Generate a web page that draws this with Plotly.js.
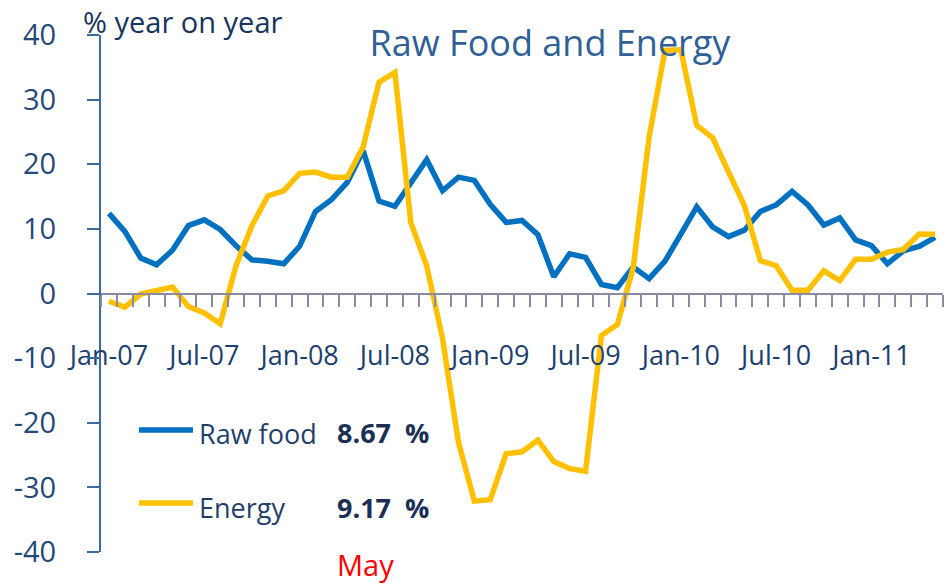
<!DOCTYPE html>
<html>
<head>
<meta charset="utf-8">
<script src="https://cdn.plot.ly/plotly-3.0.1.min.js"></script>
<style>html,body{margin:0;padding:0;background:#fff;}#chart{width:951px;height:586px;}</style>
</head>
<body>
<div id="chart"></div>
<script>
const categories = ['Jan-07','Feb-07','Mar-07','Apr-07','May-07','Jun-07','Jul-07','Aug-07','Sep-07','Oct-07','Nov-07','Dec-07',
  'Jan-08','Feb-08','Mar-08','Apr-08','May-08','Jun-08','Jul-08','Aug-08','Sep-08','Oct-08','Nov-08','Dec-08',
  'Jan-09','Feb-09','Mar-09','Apr-09','May-09','Jun-09','Jul-09','Aug-09','Sep-09','Oct-09','Nov-09','Dec-09',
  'Jan-10','Feb-10','Mar-10','Apr-10','May-10','Jun-10','Jul-10','Aug-10','Sep-10','Oct-10','Nov-10','Dec-10',
  'Jan-11','Feb-11','Mar-11','Apr-11','May-11'];
const tickLabels = ['Jan-07','Jul-07','Jan-08','Jul-08','Jan-09','Jul-09','Jan-10','Jul-10','Jan-11'];
const yTickVals = [-40, -30, -20, -10, 0, 10, 20, 30, 40];
const yTickText = ['-40', '-30', '-20', '-10', '0', '10', '20', '30', '40'];
const rawFood = [12.4, 9.6, 5.5, 4.45, 6.7, 10.5, 11.4, 9.9, 7.4, 5.2, 5.0, 4.6,
  7.3, 12.7, 14.5, 17.2, 22.1, 14.3, 13.5, 17.1, 20.7, 15.9, 18.0, 17.5,
  13.8, 11.0, 11.3, 9.1, 2.6, 6.15, 5.6, 1.4, 0.9, 4.1, 2.3, 5.0,
  9.0, 13.4, 10.3, 8.8, 9.8, 12.7, 13.7, 15.8, 13.7, 10.6, 11.7, 8.3,
  7.4, 4.6, 6.6, 7.3, 8.67];
const energy = [-1.2, -2.1, -0.1, 0.4, 1.0, -2.0, -3.0, -4.7, 4.3, 10.5, 15.1, 15.9,
  18.6, 18.8, 18.0, 18.0, 22.7, 32.7, 34.2, 11.0, 4.3, -7.0, -23.0, -32.1,
  -31.9, -24.8, -24.5, -22.7, -26.0, -27.1, -27.5, -6.5, -4.8, 4.0, 24.2, 37.6,
  37.7, 26.0, 24.1, 18.8, 13.6, 5.1, 4.3, 0.5, 0.5, 3.5, 2.0, 5.3,
  5.3, 6.4, 6.8, 9.2, 9.17];
const seriesNames = ['Raw food', 'Energy'];
const latestValues = ['8.67&nbsp; %', '9.17&nbsp; %'];
const latestMonth = 'May';
const colors = ['#0070C0', '#FFC000'];

const W = 951, H = 586, M = {l: 101, r: 8, t: 35, b: 34};
const pw = W - M.l - M.r, ph = H - M.t - M.b;
const px = x => (x - M.l) / pw;
const py = y => (H - M.b - y) / ph;
const FONT = 'Open Sans, Arial, sans-serif';

const traces = [rawFood, energy].map((vals, i) => ({
  type: 'scatter', mode: 'lines', x: categories, y: vals, name: seriesNames[i],
  line: {color: colors[i], width: 5.5}, showlegend: false, hoverinfo: 'x+y'
}));

const annotations = [
  {text: '% year on year', x: px(81), y: py(21), xanchor: 'left', yanchor: 'middle',
   font: {family: FONT, size: 29, color: '#17345c', weight: 500}},
  {text: seriesNames[0], x: px(197), y: py(433), xanchor: 'left', yanchor: 'middle',
   font: {family: FONT, size: 27, color: '#1f3f6a'}},
  {text: '<b>' + latestValues[0] + '</b>', x: px(335), y: py(432), xanchor: 'left', yanchor: 'middle',
   font: {family: FONT, size: 27, color: '#1b2f55'}},
  {text: seriesNames[1], x: px(197), y: py(507), xanchor: 'left', yanchor: 'middle',
   font: {family: FONT, size: 27, color: '#1f3f6a'}},
  {text: '<b>' + latestValues[1] + '</b>', x: px(335), y: py(507), xanchor: 'left', yanchor: 'middle',
   font: {family: FONT, size: 27, color: '#1b2f55'}},
  {text: latestMonth, x: px(335), y: py(564), xanchor: 'left', yanchor: 'middle',
   font: {family: FONT, size: 29, color: '#ff0000'}}
].map(a => Object.assign({xref: 'paper', yref: 'paper', showarrow: false}, a));

const shapes = [430, 503].map((yy, i) => ({
  type: 'line', xref: 'paper', yref: 'paper', x0: px(139), x1: px(193), y0: py(yy), y1: py(yy),
  line: {color: colors[i], width: 5.5}
}));

const layout = {
  width: W, height: H, margin: M, paper_bgcolor: '#fff', plot_bgcolor: '#fff',
  showlegend: false,
  title: {text: 'Raw Food and Energy', x: px(550), xref: 'paper', xanchor: 'center',
    y: 1 - 43 / H, yref: 'container', yanchor: 'middle',
    font: {family: FONT, size: 36, color: '#2f6096'}},
  xaxis: {
    type: 'category', categoryorder: 'array', categoryarray: categories,
    range: [-0.5, categories.length - 0.5],
    anchor: 'free', position: 0.5,
    tickmode: 'array', tickvals: categories,
    ticktext: categories.map(c => tickLabels.includes(c) ? c : ''),
    tickson: 'boundaries', ticks: 'outside', ticklen: 12, tickwidth: 2, tickcolor: '#8a8aa0',
    showline: true, linecolor: '#8a8aa0', linewidth: 2.5,
    showgrid: false, zeroline: false, tickangle: 0,
    ticklabelstandoff: 38,
    tickfont: {family: FONT, size: 27, color: '#1c3f6e'}
  },
  yaxis: {
    range: [-40, 40], tickmode: 'array', tickvals: yTickVals, ticktext: yTickText,
    ticks: 'outside', ticklen: 12, tickwidth: 2, tickcolor: '#3b6aa0',
    showline: true, linecolor: '#3b6aa0', linewidth: 2,
    showgrid: false, zeroline: false,
    ticklabelstandoff: 25,
    tickfont: {family: FONT, size: 29, color: '#24497a'}
  },
  annotations: annotations,
  shapes: shapes
};

Plotly.newPlot('chart', traces, layout, {displayModeBar: false, staticPlot: true});
</script>
</body>
</html>
